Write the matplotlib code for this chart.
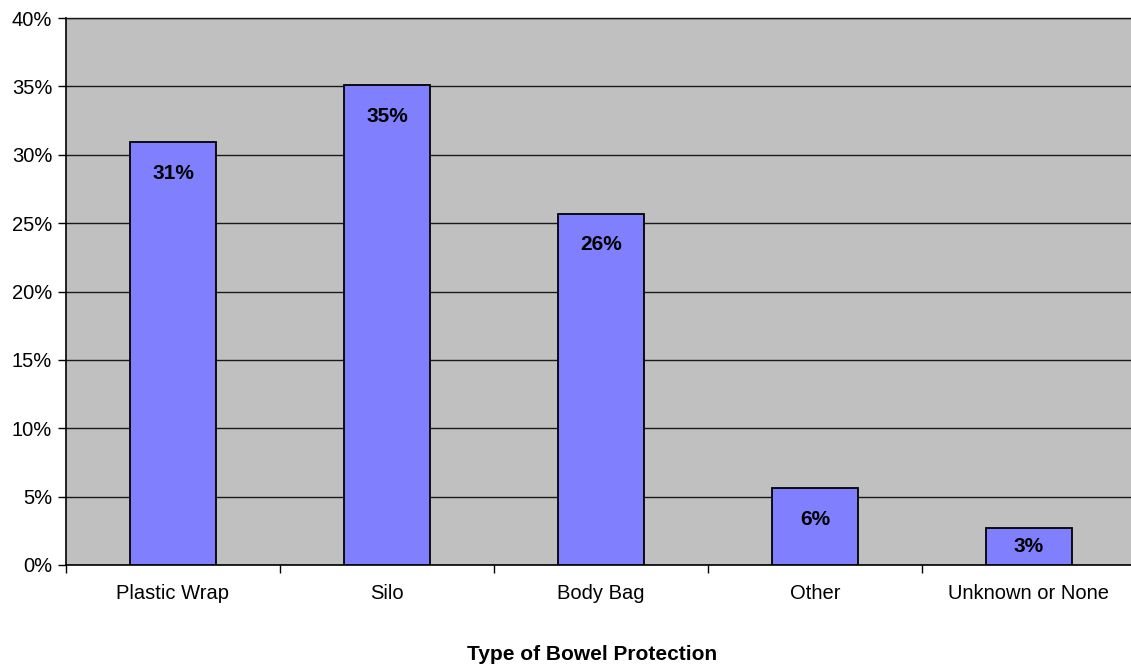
import matplotlib
matplotlib.use("Agg")
import matplotlib.pyplot as plt
from matplotlib.ticker import FixedLocator, NullFormatter

# Share of cases by type of bowel protection (percent)
categories = ["Plastic Wrap", "Silo", "Body Bag", "Other", "Unknown or None"]
shares = [30.9, 35.1, 25.7, 5.6, 2.7]
y_ticks = [0, 5, 10, 15, 20, 25, 30, 35, 40]
y_tick_labels = [f"{t}%" for t in y_ticks]
x_title = "Type of Bowel Protection"

plt.rcParams["font.family"] = ["Liberation Sans", "DejaVu Sans"]

W, H, DPI = 1131, 669, 100
fig = plt.figure(figsize=(W / DPI, H / DPI), dpi=DPI)
left_px, right_px, top_px, bottom_px = 66, 1136, 18, 565
ax = fig.add_axes([left_px / W, 1 - bottom_px / H,
                   (right_px - left_px) / W, (bottom_px - top_px) / H])
ax.set_facecolor("#C0C0C0")

positions = list(range(len(categories)))
ax.bar(positions, shares, width=0.40, color="#8080FF",
       edgecolor="black", linewidth=1.3, zorder=3)

ymax = 40
px_per_unit = (bottom_px - top_px) / ymax
for x, v in zip(positions, shares):
    # label sits just inside the top of the bar, or mid-bar for short bars
    offset = min(31, v * px_per_unit / 2)
    ax.annotate(f"{v:.0f}%", xy=(x, v), xytext=(0, -offset),
                textcoords="offset pixels",
                ha="center", va="center", fontsize=15,
                fontweight="bold", color="black", zorder=4)

ax.set_xlim(-0.5, len(categories) - 0.5)
ax.set_ylim(0, ymax)

ax.set_yticks(y_ticks)
ax.set_yticklabels(y_tick_labels, fontsize=14.5)
ax.yaxis.grid(True, color="#1a1a1a", linewidth=1.0, zorder=0)
ax.set_axisbelow(True)

# category labels centred under bars, tick marks on the boundaries
ax.xaxis.set_major_locator(FixedLocator([p - 0.5 for p in positions] + [len(categories) - 0.5]))
ax.xaxis.set_major_formatter(NullFormatter())
ax.xaxis.set_minor_locator(FixedLocator(positions))
ax.set_xticklabels(categories, minor=True, fontsize=14.5)
ax.tick_params(axis="x", which="minor", length=0, pad=14)
ax.tick_params(axis="x", which="major", length=6, width=1, color="black", direction="out")
ax.tick_params(axis="y", length=6, width=1, color="black", direction="out", pad=4)

for side in ["left", "bottom"]:
    ax.spines[side].set_color("black")
    ax.spines[side].set_linewidth(1.2)
ax.spines["top"].set_color("#1a1a1a")
ax.spines["top"].set_linewidth(1.0)
ax.spines["right"].set_visible(False)

fig.text(592 / W, 1 - 655 / H, x_title, ha="center", va="center",
         fontsize=15, fontweight="bold")

fig.savefig("out.png", dpi=DPI)
